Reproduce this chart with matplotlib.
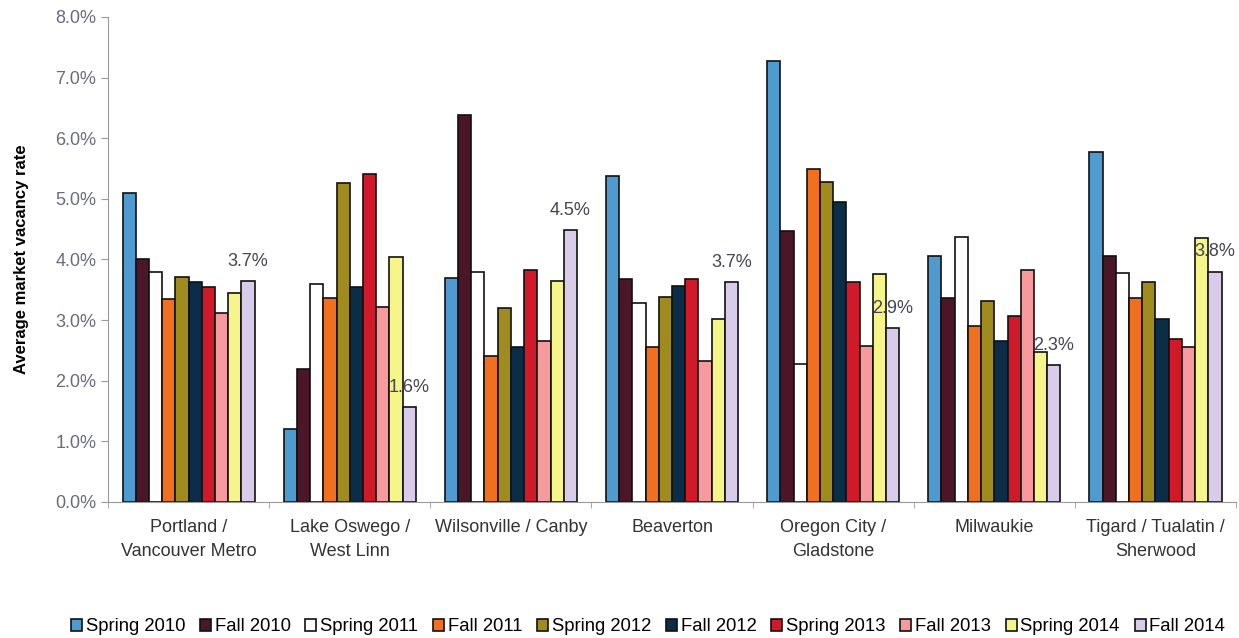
import numpy as np
import matplotlib.pyplot as plt
from matplotlib.ticker import FuncFormatter

# data (%)
markets = ["Portland /\nVancouver Metro", "Lake Oswego /\nWest Linn", "Wilsonville / Canby",
           "Beaverton", "Oregon City /\nGladstone", "Milwaukie", "Tigard / Tualatin /\nSherwood"]
seasons = ["Spring 2010", "Fall 2010", "Spring 2011", "Fall 2011", "Spring 2012",
           "Fall 2012", "Spring 2013", "Fall 2013", "Spring 2014", "Fall 2014"]

spring_2010 = [5.10, 1.20, 3.69, 5.38, 7.28, 4.06, 5.78]
fall_2010   = [4.01, 2.19, 6.39, 3.68, 4.47, 3.37, 4.06]
spring_2011 = [3.80, 3.60, 3.79, 3.28, 2.28, 4.37, 3.78]
fall_2011   = [3.35, 3.37, 2.40, 2.56, 5.49, 2.91, 3.37]
spring_2012 = [3.71, 5.26, 3.20, 3.38, 5.28, 3.32, 3.63]
fall_2012   = [3.63, 3.55, 2.56, 3.57, 4.94, 2.66, 3.02]
spring_2013 = [3.55, 5.41, 3.82, 3.68, 3.63, 3.07, 2.69]
fall_2013   = [3.12, 3.22, 2.66, 2.33, 2.58, 3.83, 2.56]
spring_2014 = [3.45, 4.04, 3.65, 3.02, 3.76, 2.47, 4.36]
fall_2014   = [3.65, 1.56, 4.49, 3.63, 2.87, 2.26, 3.80]
fall_2014_labels = ["3.7%", "1.6%", "4.5%", "3.7%", "2.9%", "2.3%", "3.8%"]

series = [spring_2010, fall_2010, spring_2011, fall_2011, spring_2012,
          fall_2012, spring_2013, fall_2013, spring_2014, fall_2014]
colors = ["#4F9BD0", "#4A1628", "#FFFFFF", "#F07020", "#A08C1E",
          "#0C2D48", "#D01A2A", "#F79A9E", "#F5F58A", "#D8CCEA"]

plt.rcParams['font.family'] = ['Liberation Sans', 'DejaVu Sans']

fig = plt.figure(figsize=(12.39, 6.38), dpi=100)
ax = fig.add_axes([0.0872, 0.2132, 0.9104, 0.7602])

x = np.arange(len(markets))
w = 0.082
for i, (vals, c) in enumerate(zip(series, colors)):
    pos = x + (i - 4.5) * w
    ax.bar(pos, vals, width=w, color=c, edgecolor="#111111", linewidth=1.2,
           label=seasons[i], zorder=2)

# labels above Fall 2014 bars
for xi, v, t in zip(x, fall_2014, fall_2014_labels):
    ax.annotate(t, (xi + 4.5 * w, v), xytext=(0, 8), textcoords="offset points",
                ha="center", va="bottom", fontsize=13, color="#444455")

ax.set_xlim(-0.5, len(markets) - 0.5)
ax.set_ylim(0, 8)
ax.set_yticks(np.arange(0, 8.01, 1))
ax.yaxis.set_major_formatter(FuncFormatter(lambda v, p: f"{v:.1f}%"))
ax.set_xticks(np.arange(-0.5, len(markets), 1), minor=True)
ax.set_xticks(x)
ax.set_xticklabels(markets, fontsize=13, color="#333333", linespacing=1.55)
ax.tick_params(axis="x", which="major", length=0, pad=12)
ax.tick_params(axis="x", which="minor", length=4, color="#999999")
ax.tick_params(axis="y", length=5, color="#999999", labelsize=13, labelcolor="#6a6a80")

for s in ["top", "right"]:
    ax.spines[s].set_visible(False)
ax.spines["left"].set_color("#999999")
ax.spines["bottom"].set_color("#999999")

ax.set_ylabel("Average market vacancy rate", fontsize=12, fontweight="bold", labelpad=19)

fig.legend(loc="lower center", bbox_to_anchor=(0.523, -0.022), ncol=10, frameon=False,
           fontsize=13.3, handlelength=0.6, handleheight=0.6, handletextpad=0.2,
           columnspacing=0.8)

fig.savefig("out.png", dpi=100)
